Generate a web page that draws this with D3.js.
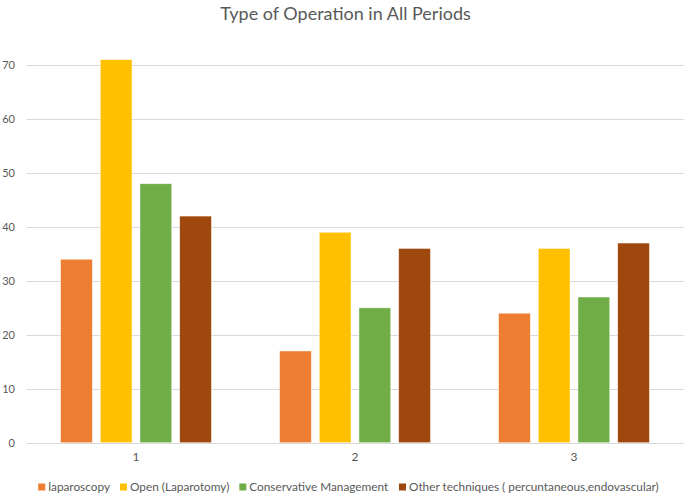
<!DOCTYPE html>
<html><head><meta charset="utf-8">
<script src="https://cdn.jsdelivr.net/npm/d3@7"></script>
<style>body{margin:0;background:#fff}svg{display:block}text{font-family:Lato,"Open Sans",sans-serif}</style>
</head><body><svg id="c" width="685" height="495"></svg>
<script>
const categories = ["1", "2", "3"];
const seriesNames = ["laparoscopy", "Open (Laparotomy)", "Conservative Management", "Other techniques ( percuntaneous,endovascular)"];
const laparoscopy = [34, 17, 24];
const openLaparotomy = [71, 39, 36];
const conservative = [48, 25, 27];
const otherTechniques = [42, 36, 37];
const yTicks = [0, 10, 20, 30, 40, 50, 60, 70];
const colors = ["#ED7D31", "#FFC000", "#70AD47", "#9E480E"];
const seriesValues = [laparoscopy, openLaparotomy, conservative, otherTechniques];

const svg = d3.select("#c");
const plot = {left: 26.5, right: 683.5, top: 65, bottom: 442.7};

const x0 = d3.scaleBand().domain(categories).range([plot.left, plot.right]).paddingInner(0).paddingOuter(0);
const x1 = d3.scaleBand().domain(seriesNames).range([0, x0.bandwidth()]).paddingInner(0.2).paddingOuter(0.858);
const y = d3.scaleLinear().domain([0, 70]).range([plot.bottom, plot.top]);

// gridlines
svg.append("g").selectAll("line").data(yTicks).join("line")
  .attr("x1", plot.left).attr("x2", plot.right)
  .attr("y1", d => Math.round(y(d)) + 0.5).attr("y2", d => Math.round(y(d)) + 0.5)
  .attr("stroke", "#d9d9d9").attr("stroke-width", 1);

// y axis labels
const yAxis = d3.axisLeft(y).tickValues(yTicks).tickSize(0).tickPadding(0);
const ya = svg.append("g").attr("transform", `translate(15,0)`).call(yAxis);
ya.select(".domain").remove();
ya.selectAll("text").attr("fill", "#595959").style("font-size", "11px").style("font-family", "Lato");

// bars
const data = categories.map((c, i) => ({cat: c, vals: seriesNames.map((s, j) => ({s, j, v: seriesValues[j][i]}))}));
svg.append("g").selectAll("g").data(data).join("g")
  .attr("transform", d => `translate(${x0(d.cat)},0)`)
  .selectAll("rect").data(d => d.vals).join("rect")
  .attr("x", d => x1(d.s)).attr("width", x1.bandwidth())
  .attr("y", d => y(d.v)).attr("height", d => y(0) - y(d.v))
  .attr("fill", d => colors[d.j])
  .attr("stroke", "#ffffff").attr("stroke-opacity", 0.6).attr("stroke-width", 0.75);

// x axis labels
const xAxis = d3.axisBottom(x0).tickSize(0).tickPadding(0);
const xa = svg.append("g").attr("transform", `translate(0,${plot.bottom + 10})`).call(xAxis);
xa.select(".domain").remove();
xa.selectAll("text").attr("fill", "#595959").style("font-size", "12px").style("font-family", "Lato");

// title
svg.append("text").attr("x", 345.5).attr("y", 20).attr("text-anchor", "middle")
  .attr("fill", "#595959").style("font-size", "18px").text("Type of Operation in All Periods");

// legend
const lg = svg.append("g");
const items = lg.selectAll("g").data(seriesNames).join("g");
items.append("rect").attr("width", 7).attr("height", 7).attr("y", -3.5).attr("fill", (d, i) => colors[i]);
items.append("text").attr("x", 10).attr("dy", "0.35em").attr("fill", "#595959")
  .style("font-size", "11.8px").text(d => d);
let xpos = 0;
const gap = 10;
items.each(function() {
  d3.select(this).attr("transform", `translate(${xpos},487)`);
  xpos += this.getBBox().width + gap;
});
const total = xpos - gap;
lg.attr("transform", `translate(${348.5 - total / 2},0)`);
</script></body></html>
